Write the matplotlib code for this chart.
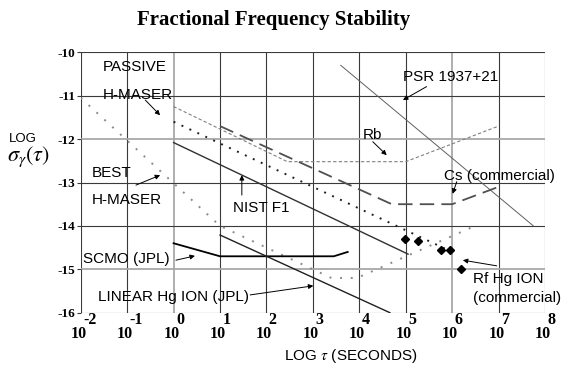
import matplotlib
matplotlib.use("Agg")
import matplotlib.pyplot as plt

# x values are log10(tau / s), y values are log10(sigma_y(tau))
psr_x = [3.6, 7.75]
psr_y = [-10.3, -14.0]

rb_x = [0.0, 2.45, 5.0, 7.0]
rb_y = [-11.25, -12.52, -12.52, -11.7]

cs_x = [1.0, 4.7, 6.0, 7.0]
cs_y = [-11.7, -13.5, -13.5, -13.1]

passive_x = [0.0, 6.0]
passive_y = [-11.6, -14.6]

nist_x = [0.0, 5.05]
nist_y = [-12.08, -14.65]

best_x = [-2.0, 1.0, 3.4, 3.95, 6.45]
best_y = [-11.05, -14.0, -15.2, -15.2, -14.02]

scmo_x = [0.0, 1.0, 3.45, 3.75]
scmo_y = [-14.4, -14.7, -14.7, -14.6]

hg_lin_x = [1.0, 4.66]
hg_lin_y = [-14.21, -16.0]

rf_hg_x = [4.99, 5.26, 5.76, 5.95, 6.2]
rf_hg_y = [-14.31, -14.35, -14.55, -14.56, -15.0]

x_decades = list(range(-2, 9))
y_levels = list(range(-16, -9))

serif = "Liberation Serif"
sans = "Liberation Sans"
plt.rcParams["mathtext.fontset"] = "stix"

fig = plt.figure(figsize=(5.61, 3.66), dpi=100)
ax = fig.add_axes([0.1439, 0.1456, 0.8276, 0.7115])
ax.set_xlim(-2, 8)
ax.set_ylim(-16, -10)

# grid - a few lines in the original are lighter grey
for xd in x_decades:
    light = xd in (0, 6)
    ax.axvline(xd, color="#a8a8a8" if light else "#3a3a3a",
               lw=1.3 if light else 0.8, zorder=1)
for yl in y_levels:
    light = yl in (-12, -15)
    ax.axhline(yl, color="#a8a8a8" if light else "#3a3a3a",
               lw=1.3 if light else 0.8, zorder=1)
for sp in ax.spines.values():
    sp.set_visible(False)

# curves
ax.plot(psr_x, psr_y, color="#606060", lw=0.7, zorder=3)
ax.plot(rb_x, rb_y, color="#808080", lw=0.8, dashes=(3, 2), zorder=3)
ax.plot(cs_x, cs_y, color="#505050", lw=1.3, dashes=(8, 4), zorder=3)
ax.plot(passive_x, passive_y, color="#202020", lw=1.4, dashes=(1, 3.5), zorder=3)
ax.plot(nist_x, nist_y, color="#303030", lw=1.0, zorder=3)
ax.plot(best_x, best_y, color="#8a8a8a", lw=1.4, dashes=(1, 4.5), zorder=3)
ax.plot(scmo_x, scmo_y, color="black", lw=1.3, zorder=3)
ax.plot(hg_lin_x, hg_lin_y, color="#202020", lw=1.0, zorder=3)
ax.plot(rf_hg_x, rf_hg_y, linestyle="none", marker="D", ms=4.5,
        color="black", zorder=4)

# y ticks
ax.set_yticks(y_levels)
ax.set_yticklabels([f"-{abs(v)}" for v in y_levels], fontfamily=serif,
                   fontweight="bold", fontsize=9.5)
ax.tick_params(axis="y", length=3, pad=1, color="#3a3a3a")
ax.set_xticks([])

# x ticks as 10 with superscript exponent
for xd in x_decades:
    ax.text(xd - 0.05, -0.082, "10", transform=ax.get_xaxis_transform(),
            ha="center", va="center", fontfamily=serif, fontweight="bold",
            fontsize=11.5)
    ax.text(xd + 0.05, -0.028, str(xd), transform=ax.get_xaxis_transform(),
            ha="left", va="center", fontfamily=serif, fontweight="bold",
            fontsize=11.5)

fig.text(0.487, 0.945, "Fractional Frequency Stability", ha="center",
         va="center", fontfamily=serif, fontweight="bold", fontsize=15)
fig.text(0.626, 0.027, r"LOG $\tau$ (SECONDS)", ha="center", va="center",
         fontfamily=sans, fontsize=11)
fig.text(0.016, 0.62, "LOG", ha="left", va="center", fontfamily=sans,
         fontsize=9.5)
fig.text(0.012, 0.572, r"$\sigma_\gamma(\tau)$", ha="left", va="center",
         fontsize=16)

# labels and arrows
labels = [
    ("PASSIVE", -1.53, -10.35),
    ("H-MASER", -1.53, -10.98),
    ("BEST", -1.76, -12.78),
    ("H-MASER", -1.76, -13.40),
    ("NIST F1", 1.27, -13.58),
    ("SCMO (JPL)", -1.96, -14.76),
    ("LINEAR Hg ION (JPL)", -1.63, -15.63),
    ("PSR 1937+21", 4.94, -10.58),
    ("Rb", 4.08, -11.91),
    ("Cs (commercial)", 5.82, -12.85),
    ("Rf Hg ION", 6.45, -15.22),
    ("(commercial)", 6.45, -15.65),
]
for txt, lx, ly in labels:
    ax.text(lx, ly, txt, ha="left", va="center", fontfamily=sans,
            fontsize=11, zorder=5)

arrows = [
    ((-0.61, -11.10), (-0.29, -11.45)),
    ((-0.81, -13.06), (-0.29, -12.83)),
    ((1.47, -13.29), (1.47, -12.83)),
    ((0.05, -14.79), (0.46, -14.69)),
    ((1.65, -15.59), (3.01, -15.38)),
    ((5.45, -10.79), (4.94, -11.10)),
    ((4.29, -12.06), (4.59, -12.37)),
    ((6.10, -12.98), (6.01, -13.26)),
    ((6.96, -14.92), (6.23, -14.79)),
]
for start, end in arrows:
    ax.annotate("", xy=end, xytext=start,
                arrowprops=dict(arrowstyle="-|>", lw=0.7, color="black",
                                mutation_scale=7, shrinkA=0, shrinkB=0),
                zorder=5)

fig.savefig("out.png", dpi=100)
